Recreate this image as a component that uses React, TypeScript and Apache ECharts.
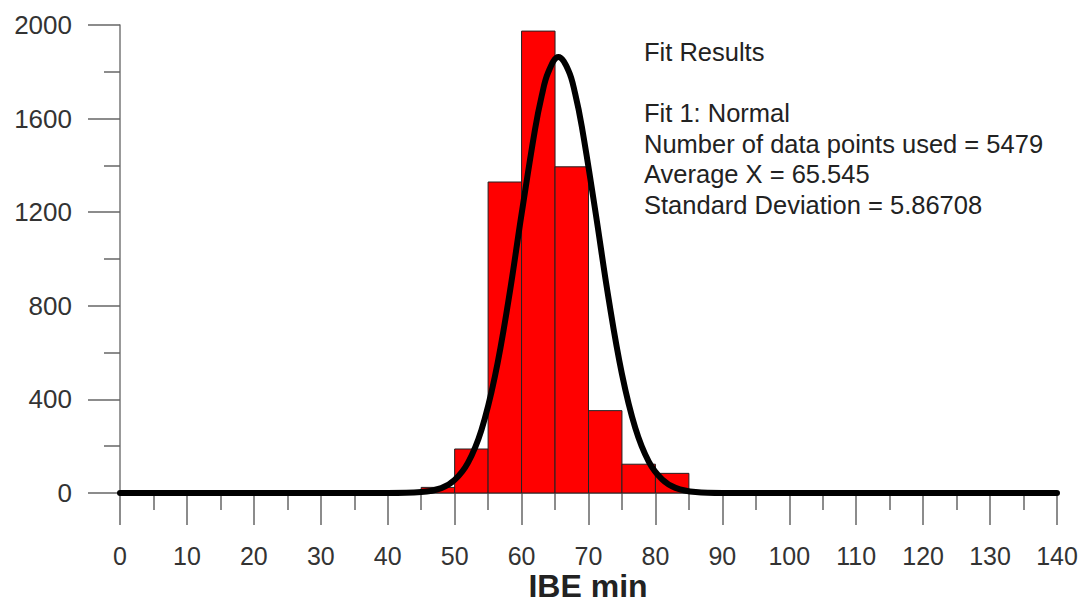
import React, { useEffect, useRef } from "react";
import * as echarts from "echarts";

// Histogram bins (lower edge, upper edge) and counts
const binStarts = [45, 50, 55, 60, 65, 70, 75, 80];
const binEnds = [50, 55, 60, 65, 70, 75, 80, 85];
const binCounts = [24, 188, 1329, 1974, 1394, 352, 123, 84];

// Fitted normal curve
const curveX = [0, 40, 45, 48, 50, 52, 54, 56, 58, 60, 62, 63, 64, 65.5, 67, 68, 69, 71, 73, 75, 77, 79, 81, 83, 86, 90, 140];
const curveY = [0, 0, 4, 21, 56, 130, 269, 496, 815, 1192, 1552, 1696, 1799, 1863, 1806, 1707, 1566, 1209, 831, 508, 277, 134, 58, 22, 4, 0, 0];

const xTicks = [0, 140, 10];
const yTicks = [0, 2000, 400];

const fitLines = [
  "Fit Results",
  "",
  "Fit 1: Normal",
  "Number of data points used = 5479",
  "Average X = 65.545",
  "Standard Deviation = 5.86708",
];
const xTitle = "IBE min";

const FONT = "'Liberation Sans', Arial, sans-serif";

export default function App() {
  const ref = useRef<HTMLDivElement>(null);
  useEffect(() => {
    if (!ref.current) return;
    const chart = echarts.init(ref.current, undefined, { renderer: "svg" });
    const barData = binStarts.map((s, i) => [s, binEnds[i], binCounts[i]]);
    const lineData = curveX.map((x, i) => [x, curveY[i]]);
    chart.setOption({
      animation: false,
      backgroundColor: "#ffffff",
      grid: { left: 120, right: 24, top: 25, bottom: 112 },
      xAxis: {
        type: "value",
        min: xTicks[0],
        max: xTicks[1],
        interval: xTicks[2],
        axisLine: { show: true, lineStyle: { color: "#777", width: 1.5 } },
        axisTick: { show: true, length: 32, lineStyle: { color: "#666", width: 1.5 } },
        minorTick: { show: true, splitNumber: 2, length: 17, lineStyle: { color: "#666", width: 1.5 } },
        splitLine: { show: false },
        axisLabel: { fontSize: 25, color: "#333", fontFamily: FONT, margin: 50, formatter: (v: number) => String(v) },
      },
      yAxis: {
        type: "value",
        min: yTicks[0],
        max: yTicks[1],
        interval: yTicks[2],
        axisLine: { show: true, lineStyle: { color: "#777", width: 1.5 } },
        axisTick: { show: true, length: 32, lineStyle: { color: "#666", width: 1.5 } },
        minorTick: { show: true, splitNumber: 2, length: 16, lineStyle: { color: "#666", width: 1.5 } },
        splitLine: { show: false },
        axisLabel: { fontSize: 26, color: "#333", fontFamily: FONT, margin: 48, formatter: (v: number) => String(v) },
      },
      series: [
        {
          type: "custom",
          data: barData,
          encode: { x: [0, 1], y: 2 },
          renderItem: (params: any, api: any) => {
            const p0 = api.coord([api.value(0), api.value(2)]);
            const p1 = api.coord([api.value(1), 0]);
            return {
              type: "rect",
              shape: { x: p0[0], y: p0[1], width: p1[0] - p0[0], height: p1[1] - p0[1] },
              style: { fill: "#ff0000", stroke: "#222", lineWidth: 1 },
            };
          },
          z: 2,
        },
        {
          type: "line",
          data: lineData,
          smooth: 0.4,
          showSymbol: false,
          lineStyle: { color: "#000", width: 6, cap: "round", join: "round" },
          z: 3,
        },
      ],
      graphic: [
        {
          type: "text",
          left: 644,
          top: 37,
          style: {
            text: fitLines.join("\n"),
            fontSize: 25.5,
            lineHeight: 30.5,
            fontFamily: FONT,
            fill: "#222",
          },
        },
        {
          type: "text",
          x: 588,
          y: 586,
          style: {
            text: xTitle,
            fontSize: 32,
            fontWeight: "bold",
            fontFamily: FONT,
            fill: "#222",
            align: "center",
            verticalAlign: "middle",
          },
        },
      ],
    });
    return () => chart.dispose();
  }, []);
  return (
    <div
      ref={ref}
      style={{ position: "fixed", left: 0, top: 0, width: 1081, height: 605, background: "#fff" }}
    />
  );
}
